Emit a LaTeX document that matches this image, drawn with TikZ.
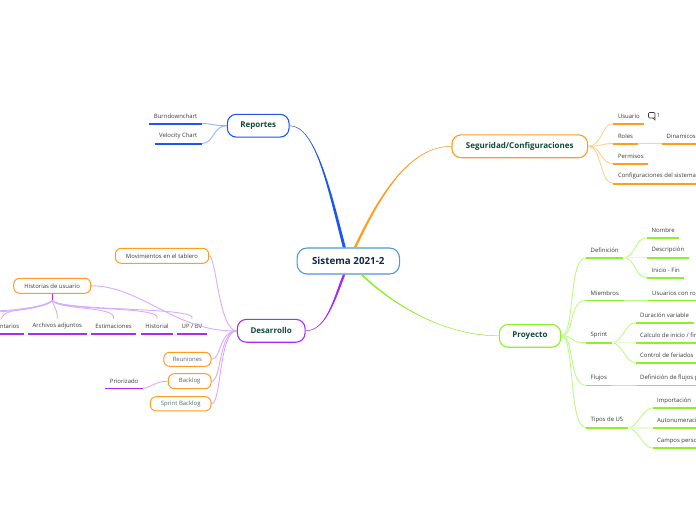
\documentclass[tikz,border=0pt]{standalone}
\usepackage{fontspec}
\setmainfont{Open Sans}
\definecolor{bluemain}{HTML}{1F55F5}
\definecolor{bluelight}{HTML}{94B4FF}
\definecolor{orangemain}{HTML}{FF9D1E}
\definecolor{orangelight}{HTML}{FFD08F}
\definecolor{greenmain}{HTML}{8EF02A}
\definecolor{greenlight}{HTML}{BDFA85}
\definecolor{greenpale}{HTML}{E2FCCB}
\definecolor{purplemain}{HTML}{A82BF5}
\definecolor{purplelight}{HTML}{D9ABFB}
\definecolor{centerblue}{HTML}{4C9BD6}
\definecolor{titlenavy}{HTML}{12264F}
\definecolor{titlegreen}{HTML}{0F4A3A}
\definecolor{softgreen}{HTML}{4C6E64}
\definecolor{leafgray}{HTML}{3A3A3A}
\tikzset{
  x=1pt,y=-1pt,
  leafbox/.style={inner xsep=4.5pt,inner ysep=0pt,minimum height=14.6pt,text=leafgray,
    font=\fontsize{5.95}{7}\selectfont,anchor=south west},
  rootbox/.style={draw=centerblue,line width=1.1pt,rounded corners=10pt,fill=white,text=titlenavy,
    font=\fontsize{9.8}{11}\selectfont\bfseries,minimum width=102.5pt,minimum height=26pt,inner sep=0pt},
  mainbox/.style={line width=1.1pt,rounded corners=9pt,fill=white,text=titlegreen,
    font=\fontsize{8}{9}\selectfont\bfseries,minimum height=22.8pt,inner sep=0pt},
  subbox/.style={draw=orangemain,line width=1pt,rounded corners=6pt,fill=white,
    font=\fontsize{5.95}{7}\selectfont,inner sep=0pt},
  rulebelow/.style={line width=1.6pt},
  widerule/.style={line width=2pt},
  bluecurve/.style={draw=bluelight,line width=.9pt},
  orangecurve/.style={draw=orangelight,line width=.9pt},
  greencurve/.style={draw=greenlight,line width=.9pt},
  purplecurve/.style={draw=purplelight,line width=.9pt},
}
\begin{document}
\begin{tikzpicture}
\useasboundingbox (0,0) rectangle (696,520);
\fill[white] (0,0) rectangle (696,520);
\clip (0,0) rectangle (696,520);

% central and main nodes
\node[rootbox] (root) at (348.3,261) {Sistema 2021-2};
\node[mainbox,draw=bluemain,minimum width=61.7pt] (rep) at (258.2,125.7) {Reportes};
\node[mainbox,draw=orangemain,minimum width=135.7pt] (seg) at (519.8,146.3) {Seguridad/Configuraciones};
\node[mainbox,draw=greenmain,minimum width=61.4pt] (pro) at (530,335.8) {Proyecto};
\node[mainbox,draw=purplemain,minimum width=67.7pt] (des) at (271.2,330.8) {Desarrollo};

% Reportes leaves
\node[leafbox,anchor=south east] (burn) at (202,123.5) {Burndownchart};
\node[leafbox,anchor=south east] (velo) at (202,143.5) {Velocity Chart};
% Seguridad leaves
\node[leafbox] (usu) at (613.3,123.5) {Usuario};
\node[leafbox] (rol) at (613.3,143.5) {Roles};
\node[leafbox] (din) at (662,143.5) {Dinamicos};
\node[leafbox] (per) at (613.3,163.5) {Permisos};
\node[leafbox] (cfg) at (613.3,183.5) {Configuraciones del sistema};
\node[font=\fontsize{5.95}{7}\selectfont,text=leafgray,inner sep=0pt] (cnt) at (658.3,115.8) {1};
% Proyecto leaves
\node[leafbox] (def) at (586,257.7) {Definición};
\node[leafbox] (nom) at (647,237.7) {Nombre};
\node[leafbox] (dsc) at (647,257.7) {Descripción};
\node[leafbox] (ini) at (647,277.7) {Inicio - Fin};
\node[leafbox] (mie) at (586,300.3) {Miembros};
\node[leafbox] (rls) at (647.5,300.3) {Usuarios con roles};
\node[leafbox] (spr) at (586,342.7) {Sprint};
\node[leafbox] (dur) at (635.5,322.7) {Duración variable};
\node[leafbox] (cal) at (635.5,342.7) {Calculo de inicio / fin};
\node[leafbox] (fer) at (635.5,362.7) {Control de feriados};
\node[leafbox] (flu) at (586,385.3) {Flujos};
\node[leafbox] (dfl) at (635.5,385.3) {Definición de flujos por};
\node[leafbox] (tip) at (586,427.7) {Tipos de US};
\node[leafbox] (imp) at (652.5,408) {Importación};
\node[leafbox] (aut) at (652.5,428) {Autonumeración};
\node[leafbox] (cam) at (652.5,448) {Campos personalizados};
% Desarrollo children
\node[subbox,text=leafgray,minimum width=93.4pt,minimum height=15pt] (mov) at (162,255.8) {Movimientos en el tablero};
\node[subbox,text=leafgray,minimum width=77pt,minimum height=15pt] (his) at (52.2,285.8) {Historias de usuario};
\node[subbox,text=softgreen,minimum width=47.3pt,minimum height=14pt] (reu) at (187.4,359.3) {Reuniones};
\node[subbox,text=softgreen,minimum width=42.7pt,minimum height=15pt] (bac) at (189.7,381.2) {Backlog};
\node[subbox,text=softgreen,minimum width=60.7pt,minimum height=14.3pt] (sbk) at (180.7,403.8) {Sprint Backlog};
\node[leafbox,anchor=south east] (pri) at (143,388.3) {Priorizado};
\node[leafbox,anchor=south east] (com) at (24,333.7) {Comentarios};
\node[leafbox] (arc) at (28,333.7) {Archivos adjuntos};
\node[leafbox] (est) at (90.7,333.7) {Estimaciones};
\node[leafbox] (hst) at (140.7,333.7) {Historial};
\node[leafbox] (upb) at (177,333.7) {UP / BV};
\coordinate (stem) at (52.2,300.5);
\coordinate (offa) at (-30,311.5);
\coordinate (offb) at (-30,312.5);

% tapered main branches
\fill[bluemain] (rep.east) .. controls +(26,0) and +(-15,-58) .. ([xshift=-5.5pt]root.north)
  -- ([xshift=-2.5pt]root.north) .. controls +(-15,-58) and +(26,0.5) .. (rep.east) -- cycle;
\draw[bluemain,line width=.4pt] (rep.east) .. controls +(26,0) and +(-15,-58) .. ([xshift=-4pt]root.north);
\fill[orangemain] (seg.west) .. controls +(-42,0) and +(25,-53) .. ([xshift=5.5pt]root.north)
  -- ([xshift=8pt]root.north) .. controls +(25,-53) and +(-42,0.5) .. (seg.west) -- cycle;
\draw[orangemain,line width=.4pt] (seg.west) .. controls +(-42,0) and +(25,-53) .. ([xshift=6.7pt]root.north);
\fill[greenmain] (pro.west) .. controls +(-49,0) and +(38,36) .. ([xshift=12pt]root.south)
  -- ([xshift=14.5pt]root.south) .. controls +(38,36) and +(-49,0.5) .. (pro.west) -- cycle;
\draw[greenmain,line width=.4pt] (pro.west) .. controls +(-49,0) and +(38,36) .. ([xshift=13.3pt]root.south);
\fill[purplemain] (des.east) .. controls +(20,0) and +(-10,26) .. ([xshift=-5.5pt]root.south)
  -- ([xshift=-3pt]root.south) .. controls +(-10,26) and +(20,0.5) .. (des.east) -- cycle;
\draw[purplemain,line width=.4pt] (des.east) .. controls +(20,0) and +(-10,26) .. ([xshift=-4.2pt]root.south);

% Reportes connectors
\draw[bluecurve] (rep.west) .. controls +(-14,0) and +(10,0) .. (burn.south east);
\draw[bluecurve] (rep.west) .. controls +(-14,0) and +(12,0) .. (velo.south east);

% Seguridad connectors
\draw[orangecurve] (seg.east) .. controls +(14,0) and +(-12,0) .. (usu.south west);
\draw[orangecurve] (seg.east) .. controls +(14,0) and +(-12,0) .. (rol.south west);
\draw[orangecurve] (seg.east) .. controls +(14,0) and +(-14,0) .. (per.south west);
\draw[orangecurve] (seg.east) .. controls +(14,0) and +(-14,0) .. (cfg.south west);
\draw[orangecurve] (rol.south east) -- (din.south west);
% comment marker
\draw[leafgray,line width=.6pt,rounded corners=1pt] (648.5,112.5) rectangle (655,118);
\draw[leafgray,line width=.6pt] (653,118) -- (655,120) -- (655,117.5);

% Proyecto connectors
\foreach \t in {def,mie,spr,flu,tip}
  \draw[greencurve] (pro.east) .. controls +(14,0) and +(-18,0) .. (\t.south west);
\draw[greencurve] (def.south east) .. controls +(12,0) and +(-12,0) .. (nom.south west);
\draw[greencurve] (def.south east) .. controls +(12,0) and +(-12,0) .. (ini.south west);
\draw[greenpale,line width=1.5pt] (def.south east) -- (dsc.south west);
\draw[greencurve] (mie.south east) -- (rls.south west);
\draw[greencurve] (spr.south east) .. controls +(10,0) and +(-10,0) .. (dur.south west);
\draw[greencurve] (spr.south east) .. controls +(10,0) and +(-10,0) .. (fer.south west);
\draw[greenpale,line width=1.5pt] (spr.south east) -- (cal.south west);
\draw[greencurve] (flu.south east) -- (dfl.south west);
\draw[greencurve] (tip.south east) .. controls +(10,0) and +(-10,0) .. (imp.south west);
\draw[greencurve] (tip.south east) .. controls +(10,0) and +(-10,0) .. (cam.south west);
\draw[greenpale,line width=1.5pt] (tip.south east) -- (aut.south west);

% Desarrollo connectors
\draw[purplecurve] (des.west) .. controls +(-18,0) and +(7,0) .. (mov.east);
\draw[purplecurve] (des.west) .. controls +(-60,2) and +(50,0) .. (his.east);
\draw[purplecurve] (des.west) .. controls +(-18,0) and +(10,0) .. (reu.east);
\draw[purplecurve] (des.west) .. controls +(-18,0) and +(10,0) .. (bac.east);
\draw[purplecurve] (des.west) .. controls +(-18,0) and +(10,0) .. (sbk.east);
\draw[purplecurve] (bac.west) .. controls +(-14,0) and +(8,0) .. (pri.south east);
\draw[purplemain,line width=1.4pt] (his.south) -- (stem);
\draw[purplecurve] (stem) .. controls +(1,6) and +(0,-11) .. (arc.north);
\draw[purplecurve] (stem) .. controls +(8,10) and +(3,-13) .. (est.north);
\draw[purplecurve] (stem) .. controls +(10,11) and +(6,-13) .. (hst.north);
\draw[purplecurve] (stem) .. controls +(12,11) and +(8,-12) .. (upb.north);
\draw[purplecurve] (stem) .. controls +(-7,10) and +(3,-13) .. (com.north);
\draw[purplecurve] (stem) .. controls +(-12,9) and +(30,0) .. (offa);
\draw[purplecurve] (stem) .. controls +(-12,10) and +(30,0) .. (offb);

% rules under the leaf texts, on top of everything
\foreach \n in {def,nom,dsc,ini,mie,rls,spr,dur,cal,fer,flu,dfl,tip,imp,aut,cam}
  \draw[rulebelow,draw=greenmain] (\n.south west) -- (\n.south east);
\foreach \n in {pri,com,arc,est,hst,upb}
  \draw[rulebelow,draw=purplemain] (\n.south west) -- (\n.south east);
\foreach \n in {usu,rol,din,per,cfg}
  \draw[widerule,draw=orangemain] (\n.south west) -- (\n.south east);
\foreach \n in {burn,velo}
  \draw[widerule,draw=bluemain] (\n.south west) -- (\n.south east);
\end{tikzpicture}
\end{document}
